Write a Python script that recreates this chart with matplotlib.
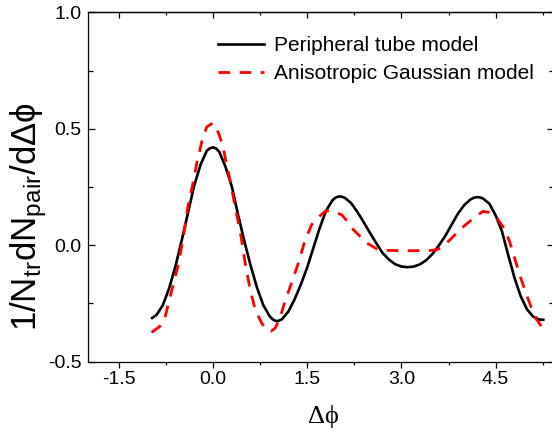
import matplotlib
matplotlib.use('Agg')
import matplotlib.pyplot as plt
from matplotlib.ticker import MultipleLocator, FormatStrFormatter

plt.rcParams['font.family'] = ['Liberation Sans', 'DejaVu Sans']
plt.rcParams['mathtext.fontset'] = 'custom'
plt.rcParams['mathtext.rm'] = 'Liberation Sans'
plt.rcParams['mathtext.it'] = 'Liberation Sans:italic'
plt.rcParams['mathtext.default'] = 'regular'
plt.rcParams['mathtext.fallback'] = 'stixsans'

# ---- data ----
tube_x = [-0.97, -0.9, -0.8, -0.7, -0.6, -0.5, -0.4, -0.3, -0.2, -0.1, -0.05,
          0.0, 0.05, 0.1, 0.2, 0.3, 0.4, 0.5, 0.6, 0.7, 0.8, 0.9, 0.95,
          1.0, 1.05, 1.1, 1.2, 1.3, 1.4, 1.5, 1.6, 1.7, 1.8, 1.9, 1.95,
          2.0, 2.05, 2.1, 2.2, 2.3, 2.4, 2.5, 2.6, 2.7, 2.8, 2.9,
          3.0, 3.1, 3.2, 3.3, 3.4, 3.5, 3.6, 3.7, 3.8, 3.9,
          4.0, 4.1, 4.15, 4.2, 4.25, 4.3, 4.4, 4.5, 4.6, 4.7, 4.8, 4.9,
          5.0, 5.1, 5.2, 5.26]
tube_y = [-0.313, -0.300, -0.258, -0.186, -0.092, 0.020, 0.138, 0.256, 0.345, 0.405, 0.416,
          0.420, 0.415, 0.400, 0.335, 0.250, 0.128, 0.015, -0.090, -0.183, -0.258, -0.305, -0.319,
          -0.326, -0.325, -0.318, -0.285, -0.232, -0.168, -0.095, -0.010, 0.075, 0.148, 0.192, 0.204,
          0.209, 0.208, 0.203, 0.180, 0.142, 0.098, 0.052, 0.008, -0.034, -0.062, -0.082,
          -0.092, -0.095, -0.092, -0.082, -0.064, -0.036, 0.000, 0.040, 0.088, 0.135,
          0.172, 0.196, 0.203, 0.206, 0.205, 0.200, 0.178, 0.128, 0.060, -0.042, -0.140, -0.220,
          -0.276, -0.308, -0.320, -0.321]

gauss_x = [-0.98, -0.85, -0.77, -0.72, -0.64, -0.56, -0.50, -0.45, -0.40, -0.32,
           -0.26, -0.18, -0.10, 0.00, 0.09, 0.16, 0.21, 0.27, 0.32, 0.40,
           0.45, 0.51, 0.59, 0.67, 0.77, 0.85, 0.92, 0.985, 1.06, 1.14,
           1.25, 1.36, 1.46, 1.57, 1.70, 1.80, 1.86, 1.97, 2.05, 2.13,
           2.21, 2.34, 2.45, 2.60, 2.70, 2.82, 3.00, 3.20, 3.46, 3.56,
           3.67, 3.83, 3.99, 4.15, 4.30, 4.40, 4.52, 4.65, 4.73, 4.81,
           4.89, 5.00, 5.08, 5.15, 5.26]
gauss_y = [-0.375, -0.350, -0.318, -0.260, -0.176, -0.090, -0.005, 0.075, 0.166, 0.266,
           0.351, 0.444, 0.508, 0.525, 0.480, 0.422, 0.351, 0.280, 0.209, 0.100,
           0.030, -0.076, -0.190, -0.276, -0.333, -0.365, -0.370, -0.358, -0.318, -0.247,
           -0.162, -0.076, 0.016, 0.088, 0.125, 0.148, 0.145, 0.138, 0.130, 0.105,
           0.073, 0.038, 0.009, -0.015, -0.022, -0.023, -0.024, -0.024, -0.023, -0.020,
           -0.005, 0.038, 0.080, 0.116, 0.145, 0.140, 0.116, 0.066, 0.009, -0.062,
           -0.133, -0.219, -0.276, -0.318, -0.361]

labels = ['Peripheral tube model', 'Anisotropic Gaussian model']

W, H = 552, 433
fig = plt.figure(figsize=(W / 100, H / 100), dpi=100)
L, R, T, B = 87.5, 554.0, 12.3, 361.5
ax = fig.add_axes([L / W, (H - B) / H, (R - L) / W, (B - T) / H])

ax.plot(tube_x, tube_y, color='black', lw=1.9, label=labels[0],
        solid_joinstyle='round')
ax.plot(gauss_x, gauss_y, color='red', lw=2.0, dashes=(4.2, 3.4), label=labels[1])

ax.set_xlim(-2.0, 5.43)
ax.set_ylim(-0.5, 1.0)

ax.xaxis.set_major_locator(MultipleLocator(1.5))
ax.xaxis.set_minor_locator(MultipleLocator(0.75))
ax.yaxis.set_major_locator(MultipleLocator(0.5))
ax.yaxis.set_minor_locator(MultipleLocator(0.25))
ax.xaxis.set_major_formatter(FormatStrFormatter('%.1f'))
ax.yaxis.set_major_formatter(FormatStrFormatter('%.1f'))

for s in ax.spines.values():
    s.set_linewidth(0.9)

ax.tick_params(axis='x', which='both', direction='out', top=False, labelsize=14, width=0.9, pad=2.5)
ax.tick_params(axis='x', which='major', length=4.5)
ax.tick_params(axis='x', which='minor', length=2.5)
ax.tick_params(axis='y', which='both', direction='in', left=True, right=True, labelsize=14, width=0.9, pad=4.3)
ax.tick_params(axis='y', which='major', length=5.0)
ax.tick_params(axis='y', which='minor', length=3.3)

sec = ax.secondary_xaxis('top')
sec.xaxis.set_major_locator(MultipleLocator(1.5))
sec.xaxis.set_minor_locator(MultipleLocator(0.75))
sec.tick_params(axis='x', which='both', direction='in', labeltop=False, width=0.9)
sec.tick_params(axis='x', which='major', length=4.5)
sec.tick_params(axis='x', which='minor', length=2.5)
sec.spines['top'].set_linewidth(0.9)

leg = ax.legend(loc='upper left', bbox_to_anchor=(218 / W, 1 - 36.0 / H),
                bbox_transform=fig.transFigure, frameon=False, fontsize=15,
                handlelength=2.2, handletextpad=0.48, labelspacing=0.45,
                borderpad=0, borderaxespad=0)

fig.text(29 / W, 1 - 217 / H, r'1/N$_{tr}$dN$_{pair}$/dΔϕ', rotation=90,
         ha='center', va='center', fontsize=25)
fig.text(323 / W, 1 - 417 / H, 'Δϕ', ha='center', va='center', fontsize=19,
         family=['Liberation Serif', 'DejaVu Serif'])

fig.savefig('out.png', dpi=100)
